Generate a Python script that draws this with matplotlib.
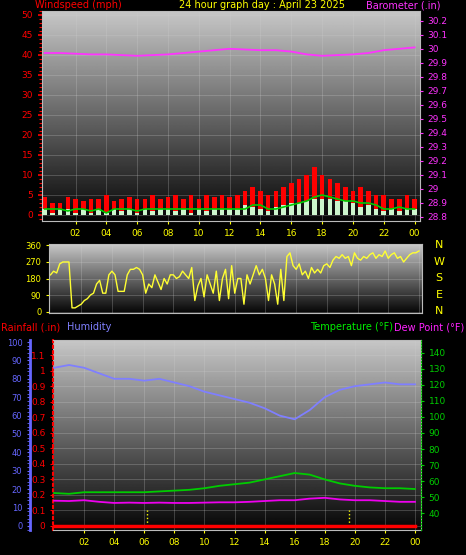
import numpy as np
import matplotlib
matplotlib.use("Agg")
import matplotlib.pyplot as plt
from matplotlib.ticker import MultipleLocator

# ---------------- data ----------------
hour_labels = ["02","04","06","08","10","12","14","16","18","20","22","00"]
hour_ticks = [2,4,6,8,10,12,14,16,18,20,22,24]

gust = [4.5,3,3,4.5,4,3.5,4,4,5,3.5,4,4.5,4,4,5,4,4.5,5,4,5,4,5,4.5,5,4.5,
        5,6,7,6,5,6,7,8,9,10,12,10,9,8,7,6,7,6,5,5,4,4,5,4]
speed = [1.5,0.5,1.5,1.5,0.5,1.5,0.5,1.5,0.5,1.5,1,1.5,0.5,1.5,1,1.5,1.5,1,1.5,0.5,
         1.5,1,1.5,1.5,1.5,1.5,2.5,2,1.5,1,2,2.5,3,3,3.5,4,4,4,3.5,3.5,3,2,2.5,1.5,1,1.5,1,1.5,1.5]
avg_wind = [1.5,1.5,1.5,1,1.5,1.5,1,1.5,0.5,1.5,1.5,1.5,1,1.5,1.5,1.5,1.5,1.5,1.5,1.5,
            1.5,1.5,1.5,1.5,1.5,1.5,1.5,2.5,2.5,1.5,1.5,2,2.5,3,3.5,4.5,5,4.5,4,3.5,3.5,3,3,2.5,1.5,1.5,2,1.5,1.5]
baro = [29.97,29.97,29.965,29.96,29.96,29.955,29.95,29.955,29.96,29.97,29.98,29.99,30.0,
        29.995,29.99,29.99,29.98,29.96,29.95,29.955,29.96,29.97,29.99,30.0,30.01]

wind_dir = [200,220,210,260,270,270,270,20,20,30,40,60,70,90,100,150,170,
            100,100,200,220,200,110,110,110,200,230,230,240,230,200,100,
            150,130,200,160,120,180,150,200,200,180,190,220,200,180,240,
            60,140,180,80,200,150,100,220,60,180,230,70,250,100,180,
            180,40,200,150,200,250,200,230,180,60,200,150,40,230,60,
            300,320,250,230,260,200,220,180,240,210,230,210,250,260,240,
            280,300,290,310,290,300,250,320,290,280,300,290,310,320,290,
            310,300,330,290,310,320,290,300,270,290,310,320,320,330]

humidity = [86,87.5,86,83,80,80,79,80,78,76,73,71,69,67,64,60,58,63,70,74,76,77,78,77,77]
temperature = [52.5,52,53,53,53,53,53,53.5,54,54.5,55.5,57,58,59,61,63,65,64,61,58.5,57,56,55.5,55.5,55]
dew_point = [47.7,47.5,48,47,46.3,46.5,46.3,46.5,46.3,46.3,46.5,46.7,46.7,47,47.5,48,48,49,49.5,48.5,48,48,47.5,47,47]
rainfall = [0]*25
sun_marks = [6.2, 19.6]

# ---------------- figure ----------------
W, H = 466, 555
fig = plt.figure(figsize=(W/100, H/100), dpi=100, facecolor="black")

def rect(x0, y0, x1, y1):
    return [x0/W, 1-y1/H, (x1-x0)/W, (y1-y0)/H]

grad = np.linspace(0.78, 0.02, 256).reshape(-1, 1)

def bg(ax):
    ax.set_facecolor("black")
    ax.imshow(grad, cmap="gray", vmin=0, vmax=1, aspect="auto",
              extent=[0, 1, 0, 1], transform=ax.transAxes, zorder=0)
    ax.grid(True, color="#d0d0d0", linestyle="-", linewidth=0.5, alpha=0.35)
    for s in ax.spines.values():
        s.set_color("#bbbbbb")

FS = 6.5

# ---- top: wind & barometer ----
ax1 = fig.add_axes(rect(42, 11, 420, 221))
bg(ax1)
tg = np.linspace(0, 24, len(gust))
ax1.bar(tg, gust, width=0.3, color="#ff0000", zorder=2, linewidth=0)
ax1.bar(tg, speed, width=0.3, color="#ccf5cc", zorder=3, linewidth=0)
ax1.plot(np.linspace(0, 24, len(avg_wind)), avg_wind, color="#00cc00", lw=1.2, zorder=4)
ax1.set_xlim(-0.175, 24.35)
ax1.set_ylim(-1.5, 51)
ax1.set_yticks(range(0, 51, 5))
ax1.yaxis.set_minor_locator(MultipleLocator(1))
ax1.set_xticks(hour_ticks)
ax1.set_xticklabels(hour_labels)
ax1.tick_params(axis="y", colors="red", labelsize=FS, length=3, width=1.2, which="major")
ax1.tick_params(axis="y", colors="red", length=2, width=0.8, which="minor")
ax1.tick_params(axis="x", colors="yellow", labelsize=FS, length=2)
ax1b = ax1.twinx()
ax1b.plot(np.linspace(0, 24, len(baro)), baro, color="#ff33ff", lw=1.3, zorder=5)
ax1b.set_ylim(28.77, 30.27)
bt = np.round(np.arange(28.8, 30.21, 0.1), 1)
ax1b.set_yticks(bt)
ax1b.set_yticklabels([f"{v:g}" for v in bt])
ax1b.tick_params(axis="y", colors="#ff33ff", labelsize=FS, length=2)
for s in ax1b.spines.values():
    s.set_visible(False)
fig.text(35/W, 1-5/H, "Windspeed (mph)", color="red", fontsize=7, va="center")
fig.text(262/W, 1-5/H, "24 hour graph day : April 23 2025", color="yellow", fontsize=7, va="center", ha="center")
fig.text(440/W, 1-5/H, "Barometer (.in)", color="#ff33ff", fontsize=7, va="center", ha="right")

# ---- middle: wind direction ----
ax2 = fig.add_axes(rect(49, 244, 422, 313))
bg(ax2)
ax2.plot(np.linspace(0, 24, len(wind_dir)), wind_dir, color="#ffff33", lw=1.0, zorder=3)
ax2.set_xlim(-0.1, 24.2)
ax2.set_ylim(-8, 368)
ax2.set_yticks([0, 90, 180, 270, 360])
ax2.set_xticks(hour_ticks)
ax2.set_xticklabels([])
ax2.tick_params(axis="y", colors="yellow", labelsize=FS-0.5, length=2)
ax2.tick_params(axis="x", length=0)
for i, c in enumerate(["N", "W", "S", "E", "N"]):
    fig.text(439/W, 1-(245+i*16.5)/H, c, color="yellow", fontsize=8, ha="center", va="center")

# ---- bottom: rainfall / humidity / temperature ----
ax3 = fig.add_axes(rect(53, 340, 421, 530))
bg(ax3)
hrs = np.arange(25)
ax3.plot(hrs, rainfall, color="red", lw=2.5, zorder=6)
for m in sun_marks:
    ax3.plot([m, m], [0, 0.1], color="yellow", lw=1, linestyle=":", zorder=5)
ax3.set_xlim(-0.07, 24.4)
ax3.set_ylim(-0.026, 1.2)
rt = np.round(np.arange(0, 1.11, 0.1), 1)
ax3.set_yticks(rt)
ax3.set_yticklabels(["0"] + [f"{v:g}" for v in rt[1:]])
ax3.set_xticks(hour_ticks)
ax3.set_xticklabels(hour_labels)
ax3.tick_params(axis="y", colors="red", labelsize=FS, length=2)
ax3.tick_params(axis="x", colors="yellow", labelsize=FS, length=2)
ax3.spines["left"].set_color("red")
ax3.spines["left"].set_linestyle(":")
ax3.spines["left"].set_linewidth(1.5)

ax3t = ax3.twinx()
ax3t.plot(hrs, temperature, color="#00cc00", lw=1.3, zorder=5)
ax3t.plot(hrs, dew_point, color="#ee00ee", lw=1.3, zorder=5)
ax3t.set_ylim(29.4, 148.1)
ax3t.set_yticks(range(40, 141, 10))
ax3t.tick_params(axis="y", colors="#00cc00", labelsize=FS, length=2)
for s in ax3t.spines.values():
    s.set_visible(False)
ax3t.spines["right"].set_visible(True)
ax3t.spines["right"].set_color("#00cc00")
ax3t.spines["right"].set_linestyle(":")

ax3h = ax3.twinx()
ax3h.plot(hrs, humidity, color="#7f7fff", lw=1.3, zorder=5)
ax3h.set_ylim(-2.2, 101.1)
ax3h.set_yticks(range(0, 101, 10))
ax3h.yaxis.set_minor_locator(MultipleLocator(2))
for s in ax3h.spines.values():
    s.set_visible(False)
ax3h.spines["left"].set_visible(True)
ax3h.spines["left"].set_position(("axes", -23/368))
ax3h.spines["left"].set_color("#6666ff")
ax3h.spines["left"].set_linewidth(2)
ax3h.yaxis.set_ticks_position("left")
ax3h.yaxis.set_label_position("left")
ax3h.tick_params(axis="y", colors="#6666ff", labelsize=FS-0.5, length=2, which="both")

fig.text(1/W, 1-327/H, "Rainfall (.in)", color="red", fontsize=7, va="center")
fig.text(67/W, 1-327/H, "Humidity", color="#8080ff", fontsize=7, va="center")
fig.text(393/W, 1-327/H, "Temperature (°F)", color="#00ee00", fontsize=7, va="center", ha="right")
fig.text(464/W, 1-327/H, "Dew Point (°F)", color="#ff22ff", fontsize=7, va="center", ha="right")

fig.savefig("out.png", dpi=100, facecolor="black")
